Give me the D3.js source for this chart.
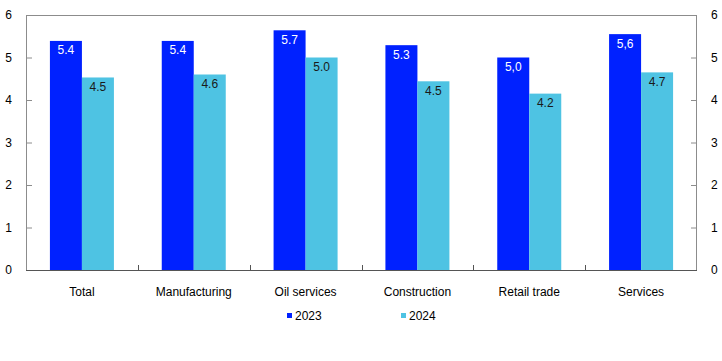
<!DOCTYPE html>
<html><head><meta charset="utf-8">
<script src="https://cdn.jsdelivr.net/npm/d3@7"></script>
<style>body{margin:0;background:#fff}svg{display:block}text{font-family:"Liberation Sans",Arial,sans-serif}</style>
</head><body>
<svg id="c" width="722" height="361"></svg>
<script>
const categories = ["Total","Manufacturing","Oil services","Construction","Retail trade","Services"];
const series = ["2023","2024"];
const values2023 = [5.39,5.39,5.64,5.29,5.0,5.55];
const values2024 = [4.53,4.6,5.0,4.44,4.15,4.65];
const labels2023 = ["5.4","5.4","5.7","5.3","5,0","5,6"];
const labels2024 = ["4.5","4.6","5.0","4.5","4.2","4.7"];
const yTicks = [0,1,2,3,4,5,6];
const colors = ["#0021FF","#4EC3E3"];
const labelColors = ["#ffffff","#1a1a1a"];

const svg = d3.select("#c");
const L=26, R=697, T=15, B=270;
const x = d3.scaleBand().domain(categories).range([L,R]).paddingInner(0).paddingOuter(0);
const y = d3.scaleLinear().domain([0,6]).range([B,T]);
const bw = 32;

const data = [values2023, values2024];
const labs = [labels2023, labels2024];
series.forEach((s,si)=>{
  const g = svg.append("g");
  g.selectAll("rect").data(categories).join("rect")
    .attr("x", c => x(c)+x.bandwidth()/2 - bw + si*bw)
    .attr("y", (c,i)=>y(data[si][i]))
    .attr("width", bw)
    .attr("height", (c,i)=>B-y(data[si][i]))
    .attr("fill", colors[si]);
  g.selectAll("text").data(categories).join("text")
    .attr("x", c => x(c)+x.bandwidth()/2 - bw + si*bw + bw/2)
    .attr("y", (c,i)=>y(data[si][i])+13.5)
    .attr("text-anchor","middle")
    .attr("font-size","12px")
    .attr("fill", labelColors[si])
    .text((c,i)=>labs[si][i]);
});

// frame
svg.append("line").attr("x1",L).attr("x2",R).attr("y1",T+0.5).attr("y2",T+0.5).attr("stroke","#8c8c8c");
svg.append("line").attr("x1",L+0.5).attr("x2",L+0.5).attr("y1",T).attr("y2",B).attr("stroke","#8c8c8c");
svg.append("line").attr("x1",R-0.5).attr("x2",R-0.5).attr("y1",T).attr("y2",B).attr("stroke","#8c8c8c");

// left axis
const la = svg.append("g").attr("transform",`translate(${L},0)`)
  .call(d3.axisLeft(y).tickValues(yTicks).tickSize(-6).tickPadding(14).tickFormat(d3.format("d")));
la.select(".domain").remove();
la.selectAll("line").attr("stroke","#8c8c8c");
la.selectAll("text").attr("font-size","12px").attr("fill","#000").attr("font-family","Liberation Sans, Arial, sans-serif");

const ra = svg.append("g").attr("transform",`translate(${R},0)`)
  .call(d3.axisRight(y).tickValues(yTicks).tickSize(-6).tickPadding(14).tickFormat(d3.format("d")));
ra.select(".domain").remove();
ra.selectAll("line").attr("stroke","#8c8c8c");
ra.selectAll("text").attr("font-size","12px").attr("fill","#000").attr("font-family","Liberation Sans, Arial, sans-serif");

// bottom axis
svg.append("line").attr("x1",L).attr("x2",R).attr("y1",B+0.5).attr("y2",B+0.5).attr("stroke","#555");
const bounds = categories.slice(1).map(c=>x(c));
svg.selectAll(".bt").data(bounds).join("line")
  .attr("x1",d=>Math.round(d)+0.5).attr("x2",d=>Math.round(d)+0.5).attr("y1",B).attr("y2",B-5).attr("stroke","#555");
svg.selectAll(".cl").data(categories).join("text")
  .attr("x",c=>x(c)+x.bandwidth()/2).attr("y",296)
  .attr("text-anchor","middle").attr("font-size","12px").attr("fill","#000").text(c=>c);

// legend
const legX = [287, 401];
series.forEach((s,si)=>{
  svg.append("rect").attr("x",legX[si]).attr("y",313).attr("width",5).attr("height",5).attr("fill",colors[si]);
  svg.append("text").attr("x",legX[si]+8).attr("y",320).attr("font-size","12px").attr("fill","#000").text(s);
});
</script>
</body></html>
